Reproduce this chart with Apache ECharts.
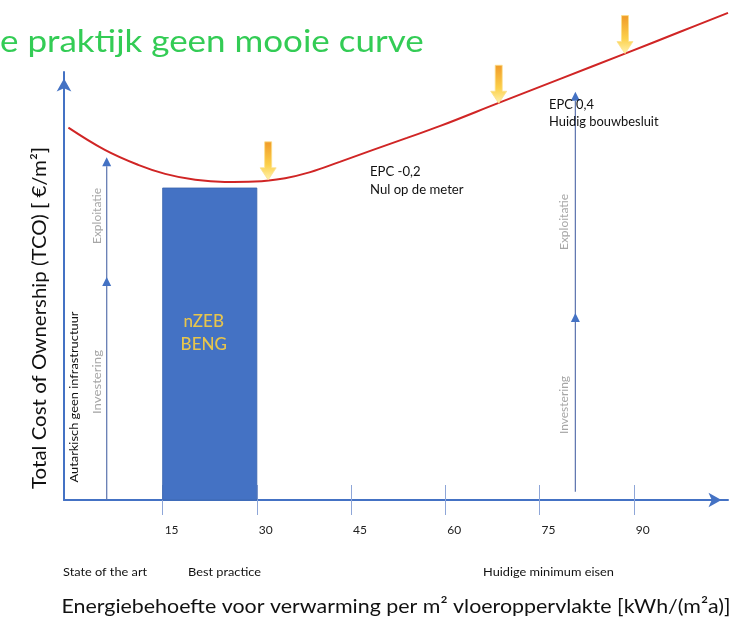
<!DOCTYPE html>
<html><head><meta charset="utf-8">
<script src="https://cdn.jsdelivr.net/npm/echarts@6.0.0/dist/echarts.min.js"></script>
<style>html,body{margin:0;padding:0;background:#fff}#c{width:733px;height:621px}</style>
</head><body><div id="c"></div>
<script>
// ---- data ----
const xTicks = [15, 30, 45, 60, 75, 90];
const curveX = [0, 5.8, 11.1, 15.4, 20.2, 24.9, 29.7, 34.5, 38.5, 43.2, 48.5, 53.9, 59.2, 68.7, 78.3, 88.6, 97.4, 105.0];
const curveY = [87.0, 81.8, 78.3, 76.2, 74.8, 74.3, 74.4, 75.2, 76.6, 79.0, 81.8, 84.6, 87.4, 92.9, 98.4, 104.3, 109.4, 113.8];
const barFrom = [15];
const barTo = [30];
const barTop = [72.9];
const barLabel = 'nZEB\nBENG';
const downArrowX = [31.8, 68.5, 88.6];
const downArrowY = [74.8, 92.7, 104.3];
const upArrowX = [6.1, 80.7];
const upArrowBase = [0, 1.9];
const upArrowMid = [52.1, 43.7];
const upArrowTop = [80.1, 95.4];
const titleText = 'e praktijk geen mooie curve';
const yName = 'Total Cost of Ownership (TCO) [ €/m²]';
const xName = 'Energiebehoefte voor verwarming per m² vloeroppervlakte [kWh/(m²a)]';
const bottomLabels = ['State of the art', 'Best practice', 'Huidige minimum eisen'];

const FONT = 'Lato, "Open Sans", sans-serif';
const BLUE = '#4472c4';

const chart = echarts.init(document.getElementById('c'), null, {renderer: 'canvas'});

const curveData = curveX.map((x, i) => [x, curveY[i]]);
const barData = barFrom.map((f, i) => [f, barTo[i], barTop[i]]);
const downData = downArrowX.map((x, i) => [x, downArrowY[i]]);
const upData = upArrowX.map((x, i) => [x, upArrowBase[i], upArrowMid[i], upArrowTop[i]]);

function txt(x, y, text, size, color, opts) {
  opts = opts || {};
  return Object.assign({type: 'text', x: x, y: y, z: 10,
    style: {text: text, font: size + 'px ' + FONT, fill: color, textAlign: opts.align || 'left', textVerticalAlign: 'middle'}},
    opts.rot ? {rotation: opts.rot} : {}, opts.sx ? {scaleX: opts.sx} : {}, opts.sy ? {scaleY: opts.sy} : {});
}

const option = {
  animation: false,
  backgroundColor: '#fff',
  grid: {left: 64, right: 5, top: 72, bottom: 121, containLabel: false},
  xAxis: [{
    type: 'value', min: -0.7, max: 105, position: 'bottom',
    splitLine: {show: false},
    axisLine: {show: true, onZero: false, lineStyle: {color: BLUE, width: 2},
      symbol: ['none', 'arrow'], symbolSize: [11, 13], symbolOffset: [0, -6.5]},
    axisTick: {show: true, length: 15, inside: false, customValues: xTicks, lineStyle: {color: '#8ea6d8', width: 1}},
    axisLabel: {show: true, customValues: xTicks, margin: 24, align: 'left', padding: [0, 0, 0, 2],
      fontFamily: FONT, fontSize: 12, color: '#222'}
  }, {
    type: 'value', min: -0.7, max: 105, position: 'bottom',
    splitLine: {show: false},
    axisLine: {show: false},
    axisTick: {show: true, length: 15, inside: true, customValues: xTicks, lineStyle: {color: '#8ea6d8', width: 1}},
    axisLabel: {show: false}
  }],
  yAxis: [{
    type: 'value', min: 0, max: 100,
    splitLine: {show: false},
    axisTick: {show: false},
    axisLabel: {show: false},
    axisLine: {show: true, onZero: false, lineStyle: {color: BLUE, width: 2},
      symbol: ['none', 'arrow'], symbolSize: [11, 13], symbolOffset: [0, -6.5]}
  }],
  series: [
    {
      type: 'custom', xAxisIndex: 0, yAxisIndex: 0, clip: false, z: 2,
      data: barData,
      renderItem: function (params, api) {
        const p0 = api.coord([api.value(0), api.value(2)]);
        const p1 = api.coord([api.value(1), 0]);
        const cx = (p0[0] + p1[0]) / 2 - 6;
        const cy = api.coord([0, 39])[1];
        return {
          type: 'group', children: [
            {type: 'rect', shape: {x: p0[0], y: p0[1], width: p1[0] - p0[0], height: p1[1] - p0[1]},
              style: {fill: '#4472c4', stroke: '#3b64ad', lineWidth: 0.8}},
            {type: 'text', x: cx, y: cy,
              style: {text: barLabel, fill: '#e8c54c', font: '500 17px ' + FONT, align: 'center', verticalAlign: 'middle', lineHeight: 23}}
          ]
        };
      }
    },
    {
      type: 'line', xAxisIndex: 0, yAxisIndex: 0, clip: false, z: 3,
      data: curveData, smooth: 0.4, smoothMonotone: 'none', showSymbol: false, symbol: 'none',
      lineStyle: {color: '#d02525', width: 2}
    },
    {
      type: 'custom', xAxisIndex: 0, yAxisIndex: 0, clip: false, z: 4,
      data: upData,
      renderItem: function (params, api) {
        const b = api.coord([api.value(0), api.value(1)]);
        const m = api.coord([api.value(0), api.value(2)]);
        const t = api.coord([api.value(0), api.value(3)]);
        const x = b[0], hw = 4.5, hl = 9;
        return {
          type: 'group', children: [
            {type: 'line', shape: {x1: x, y1: b[1], x2: x, y2: t[1] + hl}, style: {stroke: '#5a72ad', lineWidth: 1.2}},
            {type: 'polygon', shape: {points: [[x, m[1]], [x - hw, m[1] + hl], [x + hw, m[1] + hl]]}, style: {fill: BLUE}},
            {type: 'polygon', shape: {points: [[x, t[1]], [x - hw, t[1] + hl], [x + hw, t[1] + hl]]}, style: {fill: BLUE}}
          ]
        };
      }
    },
    {
      type: 'custom', xAxisIndex: 0, yAxisIndex: 0, clip: false, z: 5,
      data: downData,
      renderItem: function (params, api) {
        const p = api.coord([api.value(0), api.value(1)]);
        const tx = p[0], ty = p[1];
        return {
          type: 'polygon',
          shape: {points: [[tx - 3.5, ty - 38], [tx + 3.5, ty - 38], [tx + 3.5, ty - 12], [tx + 8, ty - 12], [tx, ty], [tx - 8, ty - 12], [tx - 3.5, ty - 12]]},
          style: {
            fill: new echarts.graphic.LinearGradient(0, 0, 0, 1, [
              {offset: 0, color: '#f09a28'}, {offset: 0.6, color: '#fcd04a'}, {offset: 1, color: '#fff3b0'}]),
            stroke: '#fbe08a', lineWidth: 0.8
          }
        };
      }
    }
  ],
  graphic: [
    txt(0, 42, titleText, 31.5, '#33cc55', {sx: 1.11}),
    txt(40, 318, yName, 19.5, '#111', {align: 'center', rot: Math.PI / 2, sx: 1.05}),
    txt(396, 607, xName, 20, '#111', {align: 'center', sx: 1.07}),
    txt(63, 572, bottomLabels[0], 11, '#111', {sx: 1.16}),
    txt(188, 572, bottomLabels[1], 11, '#111', {sx: 1.16}),
    txt(483, 572, bottomLabels[2], 11, '#111', {sx: 1.16}),
    txt(370, 172, 'EPC -0,2', 12.5, '#111', {sx: 1.05}),
    txt(370, 190, 'Nul op de meter', 12.5, '#111', {sx: 1.05}),
    txt(549, 105, 'EPC 0,4', 12.5, '#111', {sx: 1.03}),
    txt(549, 122, 'Huidig bouwbesluit', 12.5, '#111', {sx: 1.03}),
    txt(74, 397, 'Autarkisch geen infrastructuur', 12, '#111', {align: 'center', rot: Math.PI / 2, sx: 1.07}),
    txt(97, 216, 'Exploitatie', 12, '#a6a6a6', {align: 'center', rot: Math.PI / 2}),
    txt(97, 382, 'Investering', 12, '#a6a6a6', {align: 'center', rot: Math.PI / 2, sx: 1.1}),
    txt(564, 222, 'Exploitatie', 12, '#a6a6a6', {align: 'center', rot: Math.PI / 2}),
    txt(564, 405, 'Investering', 12, '#a6a6a6', {align: 'center', rot: Math.PI / 2})
  ]
};
chart.setOption(option);
</script>
</body></html>
